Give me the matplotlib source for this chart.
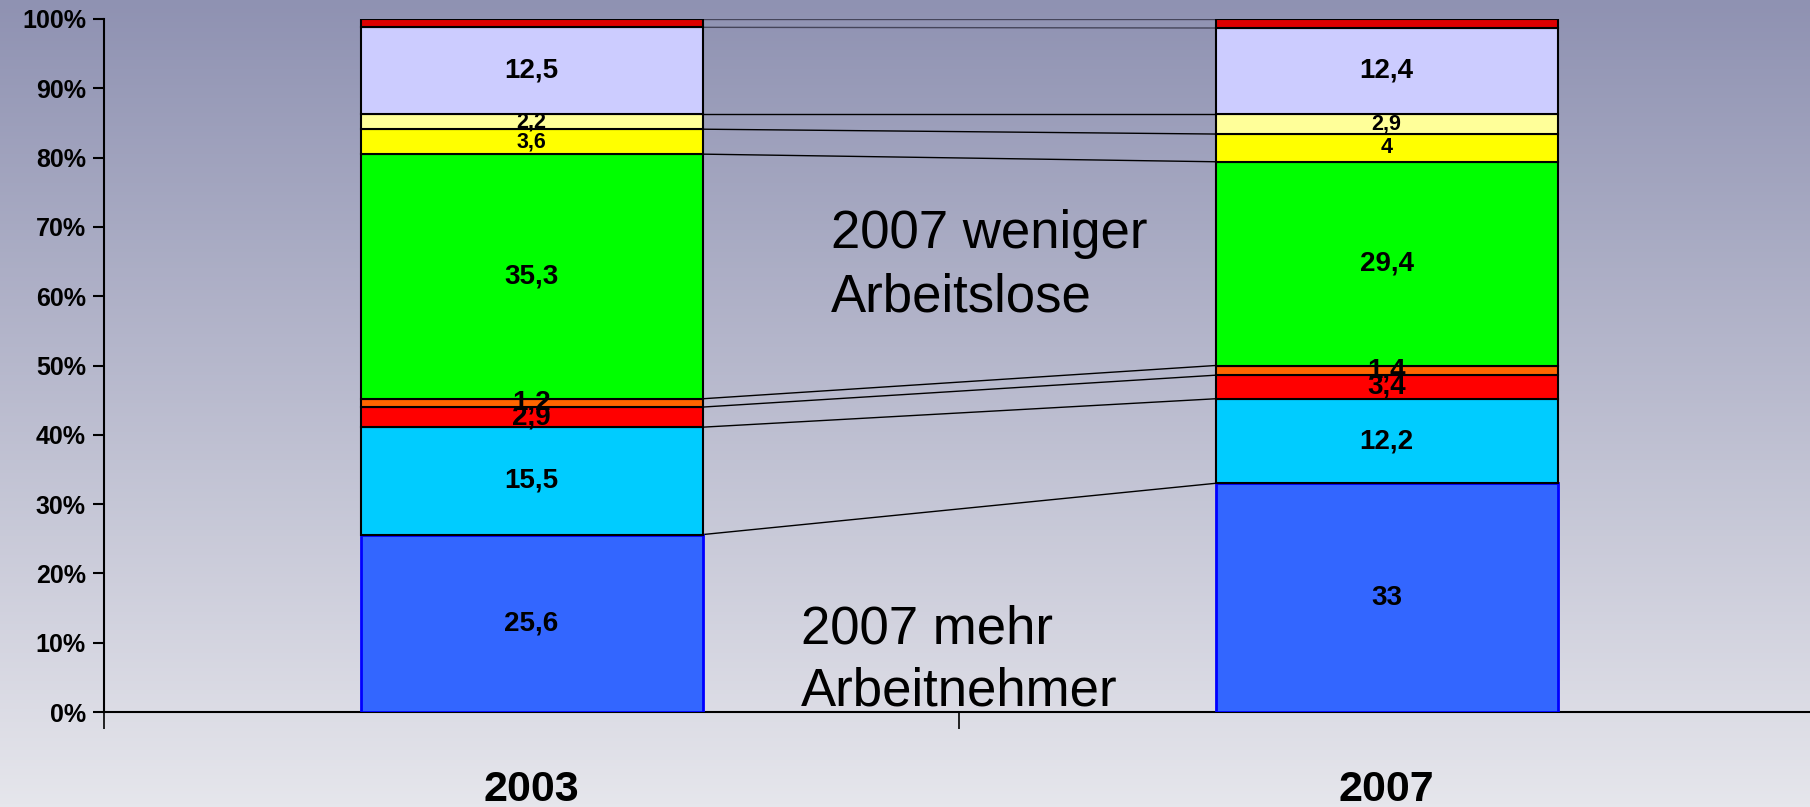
import numpy as np
import matplotlib
matplotlib.use("Agg")
import matplotlib.pyplot as plt

# data (percent shares, bottom to top)
years = ["2003", "2007"]
share_2003 = [25.6, 15.5, 2.9, 1.2, 35.3, 3.6, 2.2, 12.5, 1.2]
share_2007 = [33.0, 12.2, 3.4, 1.4, 29.4, 4.0, 2.9, 12.4, 1.3]
labels_2003 = ["25,6", "15,5", "2,9", "1,2", "35,3", "3,6", "2,2", "12,5", ""]
labels_2007 = ["33", "12,2", "3,4", "1,4", "29,4", "4", "2,9", "12,4", ""]
seg_colors = ["#3366FF", "#00CCFF", "#FF0000", "#FF6600", "#00FF00",
              "#FFFF00", "#FFFF99", "#CCCCFF", "#DD0000"]
label_sizes = [20, 20, 20, 20, 20, 15.5, 15.5, 20, 20]
note_top = "2007 weniger\nArbeitslose"
note_bottom = "2007 mehr\nArbeitnehmer"

plt.rcParams['font.family'] = ['Liberation Sans', 'DejaVu Sans']

fig = plt.figure(figsize=(18.1, 8.07), dpi=100)

# background gradient
bg = fig.add_axes([0, 0, 1, 1], zorder=0)
grad = np.linspace(0, 1, 256).reshape(-1, 1)
top = np.array([143, 146, 178]) / 255
bot = np.array([230, 230, 236]) / 255
img = top + (bot - top) * grad[:, :, None]
bg.imshow(img, aspect='auto', extent=[0, 1, 0, 1])
bg.axis('off')

ax = fig.add_axes([104 / 1810, 1 - 712 / 807, 1710 / 1810, 693 / 807], zorder=1)
ax.patch.set_alpha(0)

width = 0.4
data = [share_2003, share_2007]
labs = [labels_2003, labels_2007]
for i, vals in enumerate(data):
    bottom = 0.0
    for j, v in enumerate(vals):
        if j == 0:
            ec, lw = "#0000FF", 2
        else:
            ec, lw = "black", 1.5
        ax.bar(i, v, width, bottom=bottom, color=seg_colors[j], edgecolor=ec,
               linewidth=lw, zorder=3)
        if labs[i][j]:
            ax.text(i, bottom + v / 2, labs[i][j], ha='center', va='center',
                    fontsize=label_sizes[j], fontweight='bold', zorder=5)
        bottom += v

# connector lines between the bars
cum0 = np.cumsum(share_2003)
cum1 = np.cumsum(share_2007)
for k in range(len(cum0)):
    c = "#45455a" if k >= len(cum0) - 2 else "black"
    ax.plot([width / 2, 1 - width / 2], [cum0[k], cum1[k]], color=c, lw=1, zorder=2)

ax.text(0.35, 64.4, note_top, ha='left', va='center', fontsize=38, linespacing=1.35)
ax.text(0.315, 7.4, note_bottom, ha='left', va='center', fontsize=38, linespacing=1.3)

ax.set_xlim(-0.5, 1.5)
ax.set_ylim(0, 100)
ax.set_yticks(np.arange(0, 101, 10))
ax.set_yticklabels([f"{t}%" for t in range(0, 101, 10)], fontsize=18, fontweight='bold')
ax.tick_params(axis='y', direction='out', length=8, width=1.5, pad=5)

ax.set_xticks([0, 1])
ax.set_xticklabels(years, fontsize=31, fontweight='bold')
ax.tick_params(axis='x', which='major', length=0, pad=42)
ax.set_xticks([-0.5, 0.5, 1.5], minor=True)
ax.tick_params(axis='x', which='minor', direction='out', length=12, width=1.2)

for s in ['top', 'right']:
    ax.spines[s].set_visible(False)
ax.spines['left'].set_linewidth(1.5)
ax.spines['bottom'].set_linewidth(1.5)

fig.savefig("out.png", dpi=100)
